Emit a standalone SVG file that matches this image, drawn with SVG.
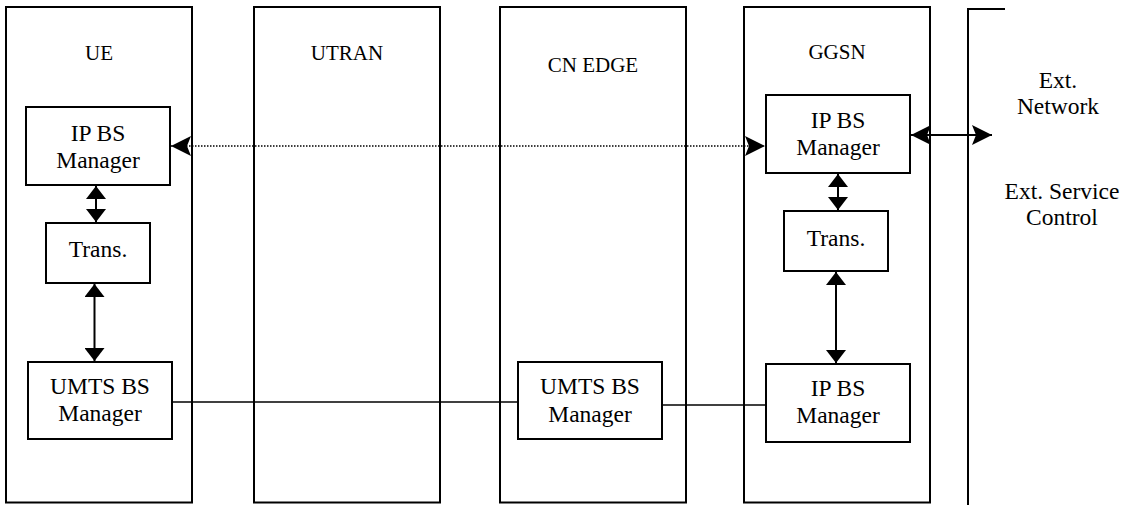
<svg xmlns="http://www.w3.org/2000/svg" width="1131" height="505" viewBox="0 0 1131 505">
  <style>
    .lane { fill: #fff; stroke: #000; stroke-width: 2; }
    .box { fill: #fff; stroke: #000; stroke-width: 2; }
    text { font-family: "Liberation Serif", "Times New Roman", Tinos, serif; fill: #000; text-anchor: middle; }
    .head { font-size: 21px; }
    .txt { font-size: 23.5px; }
    .link { fill: none; stroke: #000; stroke-width: 1.6; }
    .vbi { fill: none; stroke: #000; stroke-width: 2; marker-start: url(#tri); marker-end: url(#tri); }
    .dots { fill: none; stroke: #000; stroke-width: 1.4; stroke-dasharray: 1.5 1.5; marker-start: url(#stealth); marker-end: url(#stealth); }
    .hbi { fill: none; stroke: #000; stroke-width: 1.8; marker-start: url(#stealth); marker-end: url(#stealth); }
  </style>
  <defs>
    <marker id="tri" viewBox="0 0 13 20" refX="13" refY="10" markerWidth="13" markerHeight="20" markerUnits="userSpaceOnUse" orient="auto-start-reverse">
      <path d="M0,0 L13,10 L0,20 Z" fill="#000"/>
    </marker>
    <marker id="stealth" viewBox="0 0 20 20" refX="20" refY="10" markerWidth="20" markerHeight="20" markerUnits="userSpaceOnUse" orient="auto-start-reverse">
      <path d="M0,0 L20,10 L0,20 L4,10 Z" fill="#000"/>
    </marker>
  </defs>

  <!-- domain lanes -->
  <g id="lane-ue">
    <rect class="lane" x="6" y="7" width="186" height="495.5"/>
    <text class="head" x="99" y="60">UE</text>
  </g>
  <g id="lane-utran">
    <rect class="lane" x="254" y="7" width="186" height="495.5"/>
    <text class="head" x="347" y="60">UTRAN</text>
  </g>
  <g id="lane-cn-edge">
    <rect class="lane" x="500" y="7" width="186" height="495.5"/>
    <text class="head" x="593" y="72">CN EDGE</text>
  </g>
  <g id="lane-ggsn">
    <rect class="lane" x="744" y="7" width="186" height="495.5"/>
    <text class="head" x="837" y="59">GGSN</text>
  </g>
  <g id="ext">
    <path class="lane" d="M1005,9 H968 V505" fill="none"/>
    <text class="txt" x="1058" y="88">Ext.</text>
    <text class="txt" x="1058" y="114">Network</text>
    <text class="txt" x="1062" y="199">Ext. Service</text>
    <text class="txt" x="1062" y="225">Control</text>
  </g>

  <!-- UE functions -->
  <g id="ue-ipbs">
    <rect class="box" x="26" y="107" width="144" height="78"/>
    <text class="txt" x="98" y="141">IP BS</text>
    <text class="txt" x="98" y="167.5">Manager</text>
  </g>
  <g id="ue-trans">
    <rect class="box" x="46" y="223" width="104" height="60"/>
    <text class="txt" x="98" y="257">Trans.</text>
  </g>
  <g id="ue-umts">
    <rect class="box" x="28" y="362" width="144" height="77"/>
    <text class="txt" x="100" y="393.5">UMTS BS</text>
    <text class="txt" x="100" y="421">Manager</text>
  </g>

  <!-- CN EDGE function -->
  <g id="cn-umts">
    <rect class="box" x="518" y="362" width="144" height="77"/>
    <text class="txt" x="590" y="394">UMTS BS</text>
    <text class="txt" x="590" y="421.5">Manager</text>
  </g>

  <!-- GGSN functions -->
  <g id="ggsn-ipbs-top">
    <rect class="box" x="766" y="95" width="144" height="78"/>
    <text class="txt" x="838" y="128">IP BS</text>
    <text class="txt" x="838" y="155">Manager</text>
  </g>
  <g id="ggsn-trans">
    <rect class="box" x="784" y="211" width="104" height="60"/>
    <text class="txt" x="836" y="245.5">Trans.</text>
  </g>
  <g id="ggsn-ipbs-bottom">
    <rect class="box" x="766" y="364" width="144" height="78"/>
    <text class="txt" x="838" y="396">IP BS</text>
    <text class="txt" x="838" y="423">Manager</text>
  </g>

  <!-- connectors -->
  <g id="connectors">
    <line class="dots" x1="171" y1="146" x2="765" y2="146"/>
    <line class="hbi" x1="911" y1="135" x2="992" y2="135"/>
    <line class="vbi" x1="96" y1="186" x2="96" y2="222"/>
    <line class="vbi" x1="94.5" y1="284" x2="94.5" y2="361"/>
    <line class="vbi" x1="838" y1="174" x2="838" y2="210"/>
    <line class="vbi" x1="836" y1="272" x2="836" y2="363"/>
    <line class="link" x1="172" y1="402" x2="518" y2="402"/>
    <line class="link" x1="662" y1="405" x2="766" y2="405"/>
  </g>
</svg>
